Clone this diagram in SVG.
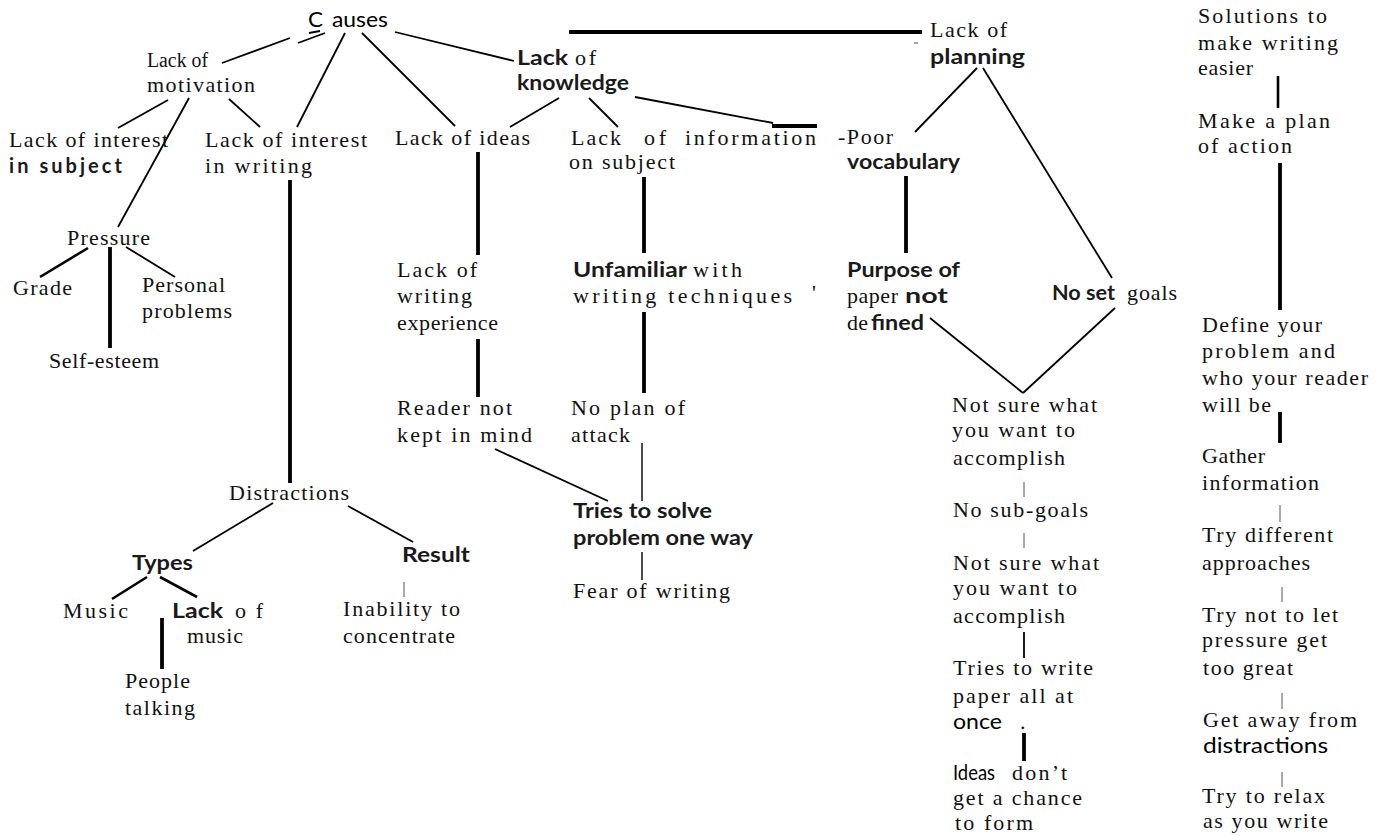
<svg xmlns="http://www.w3.org/2000/svg" width="1378" height="836" viewBox="0 0 1378 836">
<style>
.s{font-family:"Liberation Serif","Times New Roman",serif;font-size:22px;fill:#111}
.o{font-family:Lato,"Noto Sans","DejaVu Sans",sans-serif;font-size:20px;font-weight:700;fill:#1a1a1a}
.r{font-weight:400;fill:#000}
.l{stroke:#000;stroke-width:1.8;fill:none}
.m{stroke-width:2.6}
.t{stroke-width:3.8}
.h{stroke:#555;stroke-width:1}
</style>
<rect width="1378" height="836" fill="#fff"/>
<g id="connectors">
<line class="l" x1="222" y1="63" x2="290" y2="38"/>
<line class="l" x1="298" y1="43" x2="325" y2="33"/>
<line class="l" x1="309" y1="33" x2="320" y2="31"/>
<line class="l" x1="345" y1="33" x2="297" y2="127"/>
<line class="l" x1="362" y1="33" x2="455" y2="126"/>
<line class="l" x1="395" y1="32" x2="514" y2="61"/>
<line class="l" x1="168" y1="100" x2="118" y2="128"/>
<line class="l" x1="189" y1="98" x2="118" y2="227"/>
<line class="l" x1="229" y1="99" x2="260" y2="127"/>
<line class="l t" x1="290" y1="180" x2="290" y2="483"/>
<line class="l m" x1="88" y1="248" x2="40" y2="277"/>
<line class="l t" x1="110" y1="247" x2="110" y2="348"/>
<line class="l" x1="126" y1="247" x2="175" y2="277"/>
<line class="l" x1="273" y1="503" x2="193" y2="551"/>
<line class="l" x1="348" y1="506" x2="413" y2="542"/>
<line class="l m" x1="147" y1="577" x2="112" y2="599"/>
<line class="l m" x1="160" y1="577" x2="197" y2="597"/>
<line class="l t" x1="162" y1="618" x2="162" y2="669"/>
<line class="l h" x1="404" y1="582" x2="404" y2="597"/>
<line class="l" x1="559" y1="98" x2="510" y2="127"/>
<line class="l" x1="589" y1="98" x2="618" y2="127"/>
<line class="l" x1="635" y1="97" x2="773" y2="123"/>
<line class="l t" x1="772" y1="126" x2="817" y2="126"/>
<line class="l t" x1="569" y1="32" x2="922" y2="32"/>
<line class="l t" x1="478" y1="152" x2="478" y2="255"/>
<line class="l t" x1="644" y1="177" x2="644" y2="253"/>
<line class="l t" x1="906" y1="176" x2="906" y2="253"/>
<line class="l" x1="977" y1="68" x2="915" y2="132"/>
<line class="l" x1="983" y1="68" x2="1112" y2="278"/>
<line class="l t" x1="478" y1="339" x2="478" y2="397"/>
<line class="l t" x1="644" y1="312" x2="644" y2="393"/>
<line class="l" x1="642" y1="443" x2="642" y2="501" style="stroke-width:1.4"/>
<line class="l" x1="495" y1="449" x2="608" y2="501"/>
<line class="l" x1="642" y1="552" x2="642" y2="580" style="stroke-width:1.4"/>
<line class="l" x1="930" y1="318" x2="1023" y2="393"/>
<line class="l" x1="1115" y1="308" x2="1023" y2="393"/>
<line class="l h" x1="1024" y1="482" x2="1024" y2="497"/>
<line class="l h" x1="1024" y1="533" x2="1024" y2="548"/>
<line class="l" x1="1024" y1="632" x2="1024" y2="658"/>
<line class="l t" x1="1024" y1="733" x2="1024" y2="761"/>
<line class="l m" x1="1278" y1="76" x2="1278" y2="108"/>
<line class="l t" x1="1280" y1="163" x2="1280" y2="310"/>
<line class="l t" x1="1280" y1="412" x2="1280" y2="443"/>
<line class="l h" x1="1280" y1="505" x2="1280" y2="522"/>
<line class="l h" x1="1282" y1="587" x2="1282" y2="602"/>
<line class="l h" x1="1282" y1="693" x2="1282" y2="709"/>
<line class="l h" x1="1282" y1="772" x2="1282" y2="787"/>
<line class="l h" x1="914" y1="43" x2="918" y2="43"/>
</g>
<g id="causes"><text class="o r" x="308" y="27" textLength="15" lengthAdjust="spacingAndGlyphs" style="font-size:21px">C</text><text class="o r" x="332" y="27" textLength="56" lengthAdjust="spacingAndGlyphs" style="font-size:21px">auses</text></g>
<g id="lack-motivation"><text class="s" x="147" y="67" textLength="61" lengthAdjust="spacingAndGlyphs" style="font-size:20px">Lack of</text><text class="s" x="147" y="92" textLength="108" lengthAdjust="spacing">motivation</text></g>
<g id="interest-subject"><text class="s" x="9" y="147" textLength="159" lengthAdjust="spacing">Lack of interest</text><text class="o" x="9" y="173" textLength="113" lengthAdjust="spacing">in  subject</text></g>
<g id="interest-writing"><text class="s" x="205" y="147" textLength="162" lengthAdjust="spacing">Lack of interest</text><text class="s" x="205" y="173" textLength="107" lengthAdjust="spacing">in writing</text></g>
<g id="pressure"><text class="s" x="67" y="245" textLength="83" lengthAdjust="spacing">Pressure</text></g>
<g id="grade"><text class="s" x="13" y="295" textLength="59" lengthAdjust="spacing">Grade</text></g>
<g id="personal"><text class="s" x="142" y="292" textLength="83" lengthAdjust="spacing">Personal</text><text class="s" x="142" y="318" textLength="90" lengthAdjust="spacing">problems</text></g>
<g id="self-esteem"><text class="s" x="49" y="368" textLength="110" lengthAdjust="spacing">Self-esteem</text></g>
<g id="distractions"><text class="s" x="229" y="500" textLength="120" lengthAdjust="spacing">Distractions</text></g>
<g id="types"><text class="o" x="132" y="570" textLength="61" lengthAdjust="spacingAndGlyphs">Types</text></g>
<g id="music"><text class="s" x="63" y="618" textLength="65" lengthAdjust="spacing">Music</text></g>
<g id="lack-music"><text class="o" x="172" y="618" textLength="51" lengthAdjust="spacingAndGlyphs">Lack</text><text class="s" x="235" y="618" textLength="28" lengthAdjust="spacing">o f</text><text class="s" x="187" y="643" textLength="56" lengthAdjust="spacing">music</text></g>
<g id="people"><text class="s" x="125" y="688" textLength="65" lengthAdjust="spacing">People</text><text class="s" x="125" y="715" textLength="70" lengthAdjust="spacing">talking</text></g>
<g id="result"><text class="o" x="402" y="562" textLength="68" lengthAdjust="spacingAndGlyphs">Result</text></g>
<g id="inability"><text class="s" x="343" y="616" textLength="117" lengthAdjust="spacing">Inability to</text><text class="s" x="343" y="643" textLength="112" lengthAdjust="spacing">concentrate</text></g>
<g id="lack-ideas"><text class="s" x="395" y="145" textLength="135" lengthAdjust="spacing">Lack of ideas</text></g>
<g id="lack-knowledge"><text class="o" x="517" y="65" textLength="51" lengthAdjust="spacingAndGlyphs">Lack</text><text class="s" x="575" y="65" textLength="21" lengthAdjust="spacing">of</text><text class="o" x="517" y="90" textLength="112" lengthAdjust="spacingAndGlyphs">knowledge</text></g>
<g id="lack-information"><text class="s" x="571" y="145" textLength="50" lengthAdjust="spacing">Lack</text><text class="s" x="644" y="145" textLength="22" lengthAdjust="spacing">of</text><text class="s" x="685" y="145" textLength="131" lengthAdjust="spacing">information</text><text class="s" x="569" y="169" textLength="106" lengthAdjust="spacing">on  subject</text></g>
<g id="poor-vocabulary"><text class="s" x="838" y="144" textLength="55" lengthAdjust="spacing">-Poor</text><text class="o" x="847" y="169" textLength="113" lengthAdjust="spacingAndGlyphs">vocabulary</text></g>
<g id="lack-planning"><text class="s" x="930" y="37" textLength="77" lengthAdjust="spacing">Lack of</text><text class="o" x="930" y="64" textLength="95" lengthAdjust="spacingAndGlyphs">planning</text></g>
<g id="writing-experience"><text class="s" x="397" y="277" textLength="80" lengthAdjust="spacing">Lack of</text><text class="s" x="397" y="303" textLength="75" lengthAdjust="spacing">writing</text><text class="s" x="397" y="330" textLength="101" lengthAdjust="spacing">experience</text></g>
<g id="unfamiliar"><text class="o" x="573" y="277" textLength="114" lengthAdjust="spacingAndGlyphs">Unfamiliar</text><text class="s" x="693" y="277" textLength="49" lengthAdjust="spacing">with</text><text class="s" x="573" y="303" textLength="219" lengthAdjust="spacing">writing   techniques</text><text class="s" x="812" y="300">'</text></g>
<g id="purpose"><text class="o" x="847" y="277" textLength="113" lengthAdjust="spacingAndGlyphs">Purpose of</text><text class="s" x="847" y="303" textLength="51" lengthAdjust="spacing">paper</text><text class="o" x="905" y="303" textLength="43" lengthAdjust="spacingAndGlyphs">not</text><text class="s" x="847" y="330" textLength="21" lengthAdjust="spacing">de</text><text class="o" x="871" y="330" textLength="53" lengthAdjust="spacingAndGlyphs">fined</text></g>
<g id="no-set-goals"><text class="o" x="1052" y="300" textLength="63" lengthAdjust="spacingAndGlyphs">No set</text><text class="s" x="1127" y="300" textLength="50" lengthAdjust="spacing">goals</text></g>
<g id="reader"><text class="s" x="397" y="415" textLength="115" lengthAdjust="spacing">Reader  not</text><text class="s" x="397" y="442" textLength="135" lengthAdjust="spacing">kept in mind</text></g>
<g id="no-plan"><text class="s" x="571" y="415" textLength="114" lengthAdjust="spacing">No plan of</text><text class="s" x="571" y="442" textLength="59" lengthAdjust="spacing">attack</text></g>
<g id="tries-solve"><text class="o" x="573" y="518" textLength="139" lengthAdjust="spacingAndGlyphs">Tries to solve</text><text class="o" x="573" y="545" textLength="180" lengthAdjust="spacingAndGlyphs">problem one way</text></g>
<g id="fear"><text class="s" x="573" y="598" textLength="157" lengthAdjust="spacing">Fear of writing</text></g>
<g id="not-sure-1"><text class="s" x="952" y="412" textLength="145" lengthAdjust="spacing">Not sure what</text><text class="s" x="952" y="437" textLength="123" lengthAdjust="spacing">you want to</text><text class="s" x="953" y="465" textLength="112" lengthAdjust="spacing">accomplish</text></g>
<g id="no-sub-goals"><text class="s" x="953" y="517" textLength="135" lengthAdjust="spacing">No  sub-goals</text></g>
<g id="not-sure-2"><text class="s" x="953" y="570" textLength="146" lengthAdjust="spacing">Not sure what</text><text class="s" x="953" y="595" textLength="124" lengthAdjust="spacing">you want to</text><text class="s" x="953" y="623" textLength="112" lengthAdjust="spacing">accomplish</text></g>
<g id="tries-write"><text class="s" x="953" y="675" textLength="140" lengthAdjust="spacing">Tries to write</text><text class="s" x="953" y="703" textLength="120" lengthAdjust="spacing">paper all at</text><text class="o r" x="953" y="729" textLength="49" lengthAdjust="spacingAndGlyphs" style="font-size:21px">once</text><text class="s" x="1020" y="729">.</text></g>
<g id="ideas-form"><text class="o r" x="953" y="780" textLength="42" lengthAdjust="spacingAndGlyphs" style="font-size:21px">Ideas</text><text class="s" x="1012" y="780" textLength="55" lengthAdjust="spacing">don’t</text><text class="s" x="953" y="805" textLength="129" lengthAdjust="spacing">get a chance</text><text class="s" x="955" y="830" textLength="78" lengthAdjust="spacing">to form</text></g>
<g id="solutions"><text class="s" x="1198" y="23" textLength="129" lengthAdjust="spacing">Solutions  to</text><text class="s" x="1198" y="50" textLength="140" lengthAdjust="spacing">make  writing</text><text class="s" x="1198" y="75" textLength="55" lengthAdjust="spacing">easier</text></g>
<g id="make-plan"><text class="s" x="1198" y="128" textLength="132" lengthAdjust="spacing">Make a plan</text><text class="s" x="1198" y="153" textLength="94" lengthAdjust="spacing">of action</text></g>
<g id="define-problem"><text class="s" x="1202" y="332" textLength="120" lengthAdjust="spacing">Define  your</text><text class="s" x="1202" y="358" textLength="133" lengthAdjust="spacing">problem  and</text><text class="s" x="1202" y="385" textLength="166" lengthAdjust="spacing">who your reader</text><text class="s" x="1202" y="412" textLength="69" lengthAdjust="spacing">will be</text></g>
<g id="gather"><text class="s" x="1202" y="463" textLength="63" lengthAdjust="spacing">Gather</text><text class="s" x="1202" y="490" textLength="117" lengthAdjust="spacing">information</text></g>
<g id="try-different"><text class="s" x="1202" y="542" textLength="131" lengthAdjust="spacing">Try  different</text><text class="s" x="1202" y="570" textLength="108" lengthAdjust="spacing">approaches</text></g>
<g id="try-not"><text class="s" x="1202" y="622" textLength="136" lengthAdjust="spacing">Try not to let</text><text class="s" x="1202" y="647" textLength="125" lengthAdjust="spacing">pressure  get</text><text class="s" x="1203" y="675" textLength="90" lengthAdjust="spacing">too great</text></g>
<g id="get-away"><text class="s" x="1203" y="727" textLength="154" lengthAdjust="spacing">Get away from</text><text class="o r" x="1203" y="753" textLength="125" lengthAdjust="spacingAndGlyphs" style="font-size:21px">distractions</text></g>
<g id="relax"><text class="s" x="1202" y="803" textLength="123" lengthAdjust="spacing">Try to relax</text><text class="s" x="1203" y="828" textLength="125" lengthAdjust="spacing">as you write</text></g>
</svg>
